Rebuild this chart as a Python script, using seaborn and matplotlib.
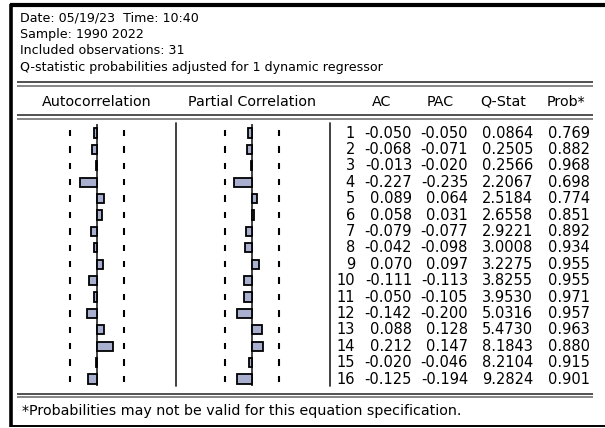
import matplotlib
matplotlib.use("Agg")
import matplotlib.pyplot as plt
import seaborn as sns
import pandas as pd
import numpy as np

# ---------------- data ----------------
lags = list(range(1, 17))
ac = [-0.050, -0.068, -0.013, -0.227, 0.089, 0.058, -0.079, -0.042,
      0.070, -0.111, -0.050, -0.142, 0.088, 0.212, -0.020, -0.125]
pac = [-0.050, -0.071, -0.020, -0.235, 0.064, 0.031, -0.077, -0.098,
       0.097, -0.113, -0.105, -0.200, 0.128, 0.147, -0.046, -0.194]
qstat = ["0.0864", "0.2505", "0.2566", "2.2067", "2.5184", "2.6558", "2.9221", "3.0008",
         "3.2275", "3.8255", "3.9530", "5.0316", "5.4730", "8.1843", "8.2104", "9.2824"]
prob = ["0.769", "0.882", "0.968", "0.698", "0.774", "0.851", "0.892", "0.934",
        "0.955", "0.955", "0.971", "0.957", "0.963", "0.880", "0.915", "0.901"]
n_obs = 31
header_lines = ["Date: 05/19/23  Time: 10:40",
                "Sample: 1990 2022",
                "Included observations: 31",
                "Q-statistic probabilities adjusted for 1 dynamic regressor"]
col_titles = ["Autocorrelation", "Partial Correlation", "AC", "PAC", "Q-Stat", "Prob*"]
footnote = "*Probabilities may not be valid for this equation specification."

df = pd.DataFrame({"lag": [str(l) for l in lags], "ac": ac, "pac": pac})
bound = 2 / np.sqrt(n_obs)

# ---------------- figure ----------------
sns.set_style("white")
plt.rcParams["font.family"] = ["DejaVu Sans"]
plt.rcParams["text.color"] = "black"
W, H = 605, 428
fig = plt.figure(figsize=(W / 100, H / 100), dpi=100)

# background axes in pixel coordinates for frame, rules and text
bg = fig.add_axes([0, 0, 1, 1])
bg.set_xlim(0, W)
bg.set_ylim(H, 0)
bg.axis("off")

# outer frame
bg.plot([9.5, W], [5, 5], color="black", lw=3.0, solid_capstyle="butt")
bg.plot([11.3, 11.3], [3.5, 427], color="black", lw=2.6, solid_capstyle="butt")
bg.plot([10, W], [426.3, 426.3], color="black", lw=1.4, solid_capstyle="butt")

# double rules
for y0 in (82.3, 115.3, 393.6):
    bg.plot([17, 593], [y0, y0], color="#222222", lw=1.1, solid_capstyle="butt")
    bg.plot([17, 593], [y0 + 3.3, y0 + 3.3], color="#666666", lw=1.1, solid_capstyle="butt")

fs_head = 9.05
for i, line in enumerate(header_lines):
    bg.text(20, [18, 34, 50.5, 67][i], line, fontsize=fs_head, va="center", ha="left",
            color="black")

fs_title = 10.3
title_x = [97.2, 252, 382, 440, 503, 566]
for t, x in zip(col_titles, title_x):
    bg.text(x, 101.5, t, fontsize=fs_title, va="center", ha="center", color="black")

bg.text(22, 411.5, footnote, fontsize=10.3, va="center", ha="left", color="black")

# separators between panels
bg.plot([175.7, 175.7], [123, 386], color="#333333", lw=1.3)
bg.plot([330.3, 330.3], [123, 386], color="#333333", lw=1.3)

# panel axes geometry (pixels)
top_px, bot_px = 123.5, 385.5
row0_px, dy_px = 133.0, 16.4
y_top = (top_px - row0_px) / dy_px
y_bot = (bot_px - row0_px) / dy_px


def px_axes(x0, x1):
    return fig.add_axes([x0 / W, (H - bot_px) / H, (x1 - x0) / W, (bot_px - top_px) / H])


bar_color = "#A9B0CF"
for col, zero_px in (("ac", 97.3), ("pac", 252.0)):
    ax = px_axes(zero_px - 75, zero_px + 75)
    sns.barplot(data=df, x=col, y="lag", orient="h", ax=ax, color=bar_color,
                saturation=1, edgecolor="black", linewidth=1.3, width=0.55)
    ax.set_xlim(-1, 1)
    ax.set_ylim(y_bot, y_top)
    ax.axvline(0, color="#333333", lw=1.3, zorder=0)
    rows = np.arange(len(lags))
    for b in (-bound, bound):
        ax.vlines([b] * len(rows), rows - 0.19, rows + 0.19, color="black", lw=1.5)
    ax.axis("off")

# numeric table axes
tab = px_axes(330, 605)
tab.set_xlim(330, 605)
tab.set_ylim(y_bot, y_top)
tab.axis("off")
fs_tab = 10.5
for i in range(len(lags)):
    kw = dict(fontsize=fs_tab, ha="right", va="center", color="black")
    tab.text(355, i, str(lags[i]), **kw)
    tab.text(412, i, f"{ac[i]:.3f}", **kw)
    tab.text(468, i, f"{pac[i]:.3f}", **kw)
    tab.text(533, i, qstat[i], **kw)
    tab.text(590, i, prob[i], **kw)

fig.savefig("out.png", dpi=100)
